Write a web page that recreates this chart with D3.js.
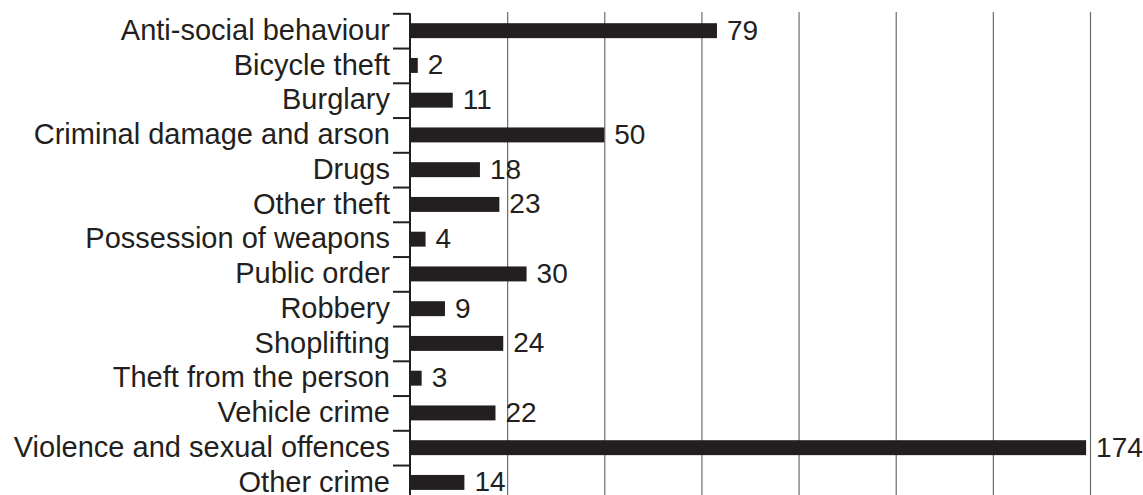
<!DOCTYPE html>
<html>
<head>
<meta charset="utf-8">
<script src="https://cdn.jsdelivr.net/npm/d3@7"></script>
<style>
  body { margin: 0; background: #fff; }
  text { font-family: "Liberation Sans", Arial, sans-serif; }
</style>
</head>
<body>
<script>
var width = 1143,
    height = 495;

var categories = ['Anti-social behaviour', 'Bicycle theft', 'Burglary', 'Criminal damage and arson',
  'Drugs', 'Other theft', 'Possession of weapons', 'Public order', 'Robbery', 'Shoplifting',
  'Theft from the person', 'Vehicle crime', 'Violence and sexual offences', 'Other crime'];
var counts = [79, 2, 11, 50, 18, 23, 4, 30, 9, 24, 3, 22, 174, 14];
var gridTicks = [25, 50, 75, 100, 125, 150, 175];

var ink = '#231f20';
var top0 = 13.3, bandStep = 34.75;

var svg = d3.select('body')
  .append('svg')
  .attr('width', width)
  .attr('height', height);

var x = d3.scaleLinear()
  .domain([0, 175])
  .range([410, 1090]);

var y = d3.scaleBand()
  .domain(categories)
  .range([top0, top0 + bandStep * categories.length])
  .paddingInner(0.57)
  .paddingOuter(0.285);

// index scale for ticks that sit between categories
var yEdge = d3.scaleLinear()
  .domain([0, categories.length])
  .range([top0, top0 + bandStep * categories.length]);

// vertical gridlines
svg.append('g')
  .attr('class', 'grid')
  .attr('transform', 'translate(0,' + 12 + ')')
  .call(d3.axisBottom(x).tickValues(gridTicks).tickSize(height).tickFormat(''))
  .call(function(g) {
    g.select('.domain').remove();
    g.selectAll('line').attr('stroke', '#6d6d6d').attr('stroke-width', 1.2);
  });

// bars
svg.selectAll('rect.bar')
  .data(counts)
  .enter().append('rect')
  .attr('class', 'bar')
  .attr('x', x(0))
  .attr('y', function(d, i) { return y(categories[i]); })
  .attr('width', function(d) { return x(d) - x(0); })
  .attr('height', y.bandwidth())
  .attr('fill', ink);

// left axis with ticks between the bands
svg.append('g')
  .attr('transform', 'translate(' + x(0) + ',0)')
  .call(d3.axisLeft(yEdge).tickValues(d3.range(0, categories.length + 1)).tickSize(17).tickSizeOuter(0).tickFormat(''))
  .call(function(g) {
    g.select('.domain').attr('stroke', ink).attr('stroke-width', 2).attr('d', 'M0,' + top0 + 'V' + height);
    g.selectAll('line').attr('stroke', ink).attr('stroke-width', 2);
  });

// category labels
svg.append('g')
  .attr('transform', 'translate(' + x(0) + ',0)')
  .call(d3.axisLeft(y).tickSize(0).tickPadding(20))
  .call(function(g) {
    g.select('.domain').remove();
    g.selectAll('text')
      .attr('fill', ink)
      .style('font-size', '29px')
      .style('font-family', '"Liberation Sans", Arial, sans-serif');
  });

// value labels
svg.selectAll('text.value')
  .data(counts)
  .enter().append('text')
  .attr('class', 'value')
  .attr('x', function(d) { return x(d) + 10; })
  .attr('y', function(d, i) { return y(categories[i]) + y.bandwidth() / 2; })
  .attr('dy', '0.32em')
  .attr('fill', ink)
  .style('font-size', '28px')
  .text(function(d) { return d; });
</script>
</body>
</html>
